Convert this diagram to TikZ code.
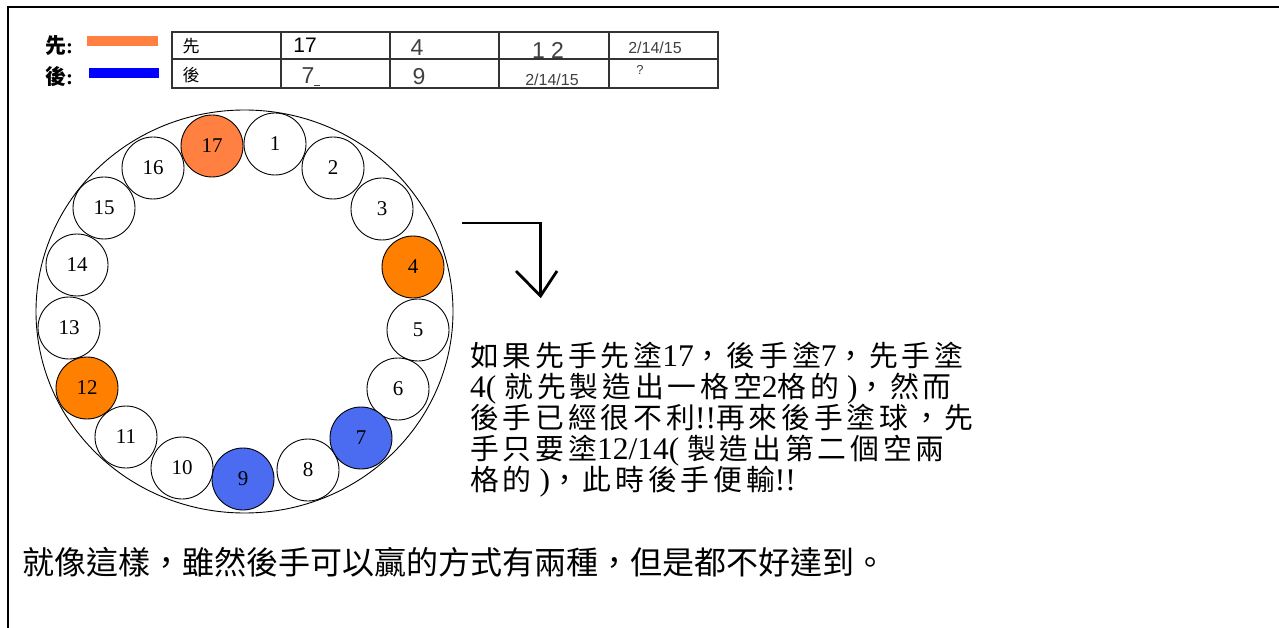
\documentclass[tikz,border=0pt]{standalone}
\usepackage{fontspec}
\setmainfont{Liberation Serif}
\newfontfamily\cjk{Noto Sans CJK TC}
\newfontfamily\cjkp[LetterSpace=13.5]{Noto Sans CJK TC}
\newfontfamily\arialf{Liberation Sans}
\newcommand{\Cj}[1]{{\cjk #1}}
\newcommand{\Cp}[1]{{\cjkp\fontsize{28.8}{28.8}\selectfont #1}}
\definecolor{orA}{RGB}{255,128,64}
\definecolor{orB}{RGB}{255,128,0}
\definecolor{blA}{RGB}{75,108,240}
\definecolor{blB}{RGB}{0,0,255}
\definecolor{tgray}{RGB}{64,64,64}
\tikzset{
  ball/.style={circle, draw=black, line width=0.9pt, minimum size=62pt, inner sep=0pt, font=\fontsize{21}{21}\selectfont},
  para/.style={anchor=west, inner sep=0pt, text height=20pt, text depth=4pt, font=\fontsize{31.5}{31.5}\selectfont},
  cell/.style={inner sep=0pt, font=\arialf\fontsize{23}{23}\selectfont, text=tgray},
  smallcell/.style={inner sep=0pt, font=\arialf\fontsize{16}{16}\selectfont, text=tgray},
  tline/.style={draw=black!80, line width=1.2pt},
}
\begin{document}
\begin{tikzpicture}[x=1pt,y=-1pt]
\useasboundingbox (0,0) rectangle (1279,628);
% frame
\draw[line width=2.2pt] (8,628) -- (8,7.3) -- (1279,7.3);
% legend
\node[inner sep=0pt, font=\fontsize{21}{21}\selectfont\bfseries] (lg1) at (59,46) {\Cj{先}:};
\node[inner sep=0pt, font=\fontsize{21}{21}\selectfont\bfseries] (lg2) at (59,77) {\Cj{後}:};
\fill[orA] (87,36) rectangle (158,46);
\fill[blB] (89,68) rectangle (159,78);
% table
\draw[tline] (172,32) rectangle (718,88);
\draw[tline] (172,59) -- (718,59);
\foreach \x in {281,390,499,609} \draw[tline] (\x,32) -- (\x,88);
\node[inner sep=0pt, font=\fontsize{17}{17}\selectfont] (t11) at (191,46) {\Cj{先}};
\node[inner sep=0pt, font=\fontsize{17}{17}\selectfont] (t21) at (191,75) {\Cj{後}};
\node[cell, text=black, font=\arialf\fontsize{21}{21}\selectfont] (t12) at (305,45) {17};
\node[cell] (t13) at (417,48) {4};
\node[cell, font=\arialf\fontsize{23}{23}\selectfont] (t14) at (548,50) {1 2};
\node[smallcell] (t15) at (655,48) {2/14/15};
\node[cell] (t22) at (311,77) {7\rule[-3pt]{6pt}{1.4pt}};
\node[cell] (t23) at (419,77) {9};
\node[smallcell] (t24) at (552,80) {2/14/15};
\node[cell, font=\arialf\fontsize{13}{13}\selectfont] (t25) at (640,70) {?};
% ring
\draw[line width=0.9pt] (244.5,311.5) ellipse [x radius=208.5, y radius=201.5];
\node[ball] (c1) at (275,144) {1};
\node[ball] (c2) at (333,168) {2};
\node[ball] (c3) at (382,209) {3};
\node[ball, fill=orB] (c4) at (413,267) {4};
\node[ball] (c5) at (418,330) {5};
\node[ball] (c6) at (398,389) {6};
\node[ball, fill=blA] (c7) at (361,438) {7};
\node[ball] (c8) at (308,470) {8};
\node[ball, fill=blA] (c9) at (243,479) {9};
\node[ball] (c10) at (182,468) {10};
\node[ball] (c11) at (126,437) {11};
\node[ball, fill=orB] (c12) at (87,388) {12};
\node[ball] (c13) at (69,328) {13};
\node[ball] (c14) at (77,265) {14};
\node[ball] (c15) at (104,208) {15};
\node[ball] (c16) at (153,168) {16};
\node[ball, fill=orA] (c17) at (212,146) {17};
% arrow
\coordinate (a0) at (462,223);
\coordinate (a1) at (540.5,223);
\coordinate (a2) at (540.5,296);
\coordinate (h1) at (516,271);
\coordinate (h2) at (557,271);
\draw[line width=2.8pt, line join=miter] (a0) -- (a1) -- (a2);
\draw[line width=2.8pt, line join=miter] (h1) -- (a2) -- (h2);
% paragraph
\node[para] (p1) at (470,358) {\Cp{如果先手先塗}17\Cp{，後手塗}7\Cp{，先手塗}};
\node[para] (p2) at (470,389) {4( \Cp{就先製造出一格空}2\Cp{格的} )\Cp{，然而}};
\node[para] (p3) at (470,420) {\Cp{後手已經很不利}!!\Cp{再來後手塗球，先}};
\node[para] (p4) at (470,451) {\Cp{手只要塗}12/14( \Cp{製造出第二個空兩}};
\node[para] (p5) at (470,482) {\Cp{格的} )\Cp{，此時後手便輸}!!};
% bottom text
\node[anchor=west, inner sep=0pt, font=\cjk\fontsize{32}{32}\selectfont] (bt) at (22,562) {就像這樣，雖然後手可以贏的方式有兩種，但是都不好達到。};
\end{tikzpicture}
\end{document}
